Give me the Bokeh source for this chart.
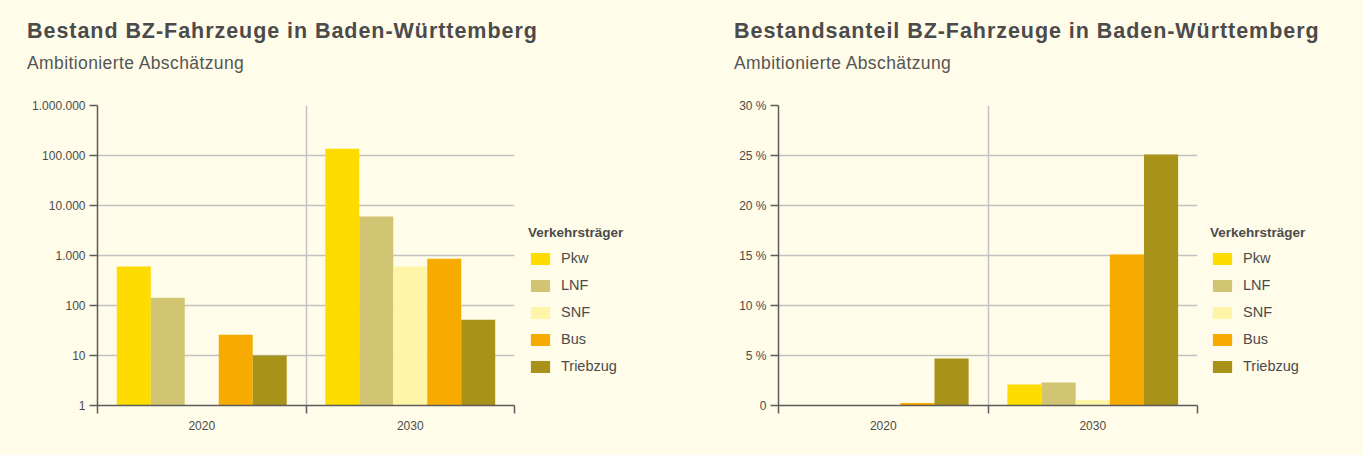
import numpy as np
from bokeh.plotting import figure
from bokeh.models import ColumnDataSource, FixedTicker, Div, Legend, LegendItem, Range1d
from bokeh.transform import dodge
from bokeh.layouts import row, column
from bokeh.embed import file_html
from bokeh.resources import INLINE

# ---------------- data ----------------
years = ["2020", "2030"]
kinds = ["Pkw", "LNF", "SNF", "Bus", "Triebzug"]
colors = ["#ffdc00", "#d1c574", "#fff5a8", "#f7ab00", "#a99219"]

# Bestand (Anzahl Fahrzeuge), log scale
bestand_pkw = [600, 136000]
bestand_lnf = [143, 6000]
bestand_snf = [float("nan"), 600]
bestand_bus = [26, 860]
bestand_triebzug = [10, 52]

# Bestandsanteil (%)
anteil_pkw = [0.0, 2.1]
anteil_lnf = [0.0, 2.3]
anteil_snf = [0.0, 0.55]
anteil_bus = [0.25, 15.1]
anteil_triebzug = [4.7, 25.1]

log_ticks = [1, 10, 100, 1000, 10000, 100000, 1000000]
log_tick_labels = ["1", "10", "100", "1.000", "10.000", "100.000", "1.000.000"]
pct_ticks = [0, 5, 10, 15, 20, 25, 30]
pct_tick_labels = ["0", "5 %", "10 %", "15 %", "20 %", "25 %", "30 %"]

titles = ["Bestand BZ-Fahrzeuge in Baden-Württemberg",
          "Bestandsanteil BZ-Fahrzeuge in Baden-Württemberg"]
subtitle = "Ambitionierte Abschätzung"
legend_title = "Verkehrsträger"

# ---------------- style ----------------
BG = "#fffce9"
FONT = "Liberation Sans"
TXT = "#4b4b4b"
AXIS = "#5c5c5c"
GRID = "#c2c2c2"
BAR_W = 0.163
HEAD_H = 75
FIG_H = 380


def header(title, width, left):
    html = (
        f'<div style="position:relative;width:{width}px;height:{HEAD_H}px;">'
        f'<div style="position:absolute;left:{left}px;top:21px;white-space:nowrap;letter-spacing:0.95px;'
        f"font:bold 21.5px/21px '{FONT}',sans-serif;color:{TXT};\">{title}</div>"
        f'<div style="position:absolute;left:{left}px;top:55px;white-space:nowrap;letter-spacing:0.4px;'
        f"font:normal 17.5px/17px '{FONT}',sans-serif;color:#555555;\">{subtitle}</div>"
        "</div>"
    )
    return Div(text=html, width=width, height=HEAD_H, margin=0,
               styles={"background-color": BG})


def make_chart(series, ticks, tick_labels, log, border_left, frame_w):
    kw = dict(y_axis_type="log", y_range=Range1d(1, 1e6)) if log else dict(y_range=Range1d(0, 30))
    p = figure(width=border_left + frame_w + 2, height=FIG_H,
               min_border_left=border_left, min_border_right=2,
               min_border_top=30, min_border_bottom=50,
               x_range=Range1d(0, len(years)), output_backend="svg",
               toolbar_location=None, tools="", **kw)
    p.margin = 0
    p.background_fill_color = BG
    p.border_fill_color = BG
    p.outline_line_color = None

    data = {"x": list(np.arange(len(years)) + 0.5)}
    for k, vals in zip(kinds, series):
        data[k] = vals
    src = ColumnDataSource(data)

    bottom = 1 if log else 0
    n = len(kinds)
    for i, (k, c) in enumerate(zip(kinds, colors)):
        off = (i - (n - 1) / 2) * BAR_W
        p.vbar(x=dodge("x", off, range=p.x_range), top=k, bottom=bottom,
               width=BAR_W, source=src, fill_color=c, line_color=None)

    # y axis
    p.yaxis.ticker = FixedTicker(ticks=ticks, minor_ticks=[])
    p.yaxis.major_label_overrides = {t: l for t, l in zip(ticks, tick_labels)}
    p.yaxis.major_tick_out = 8
    p.yaxis.major_tick_in = 0
    p.yaxis.major_label_standoff = 4
    # x axis: labels at group centres, tick marks at group boundaries
    centers = list(np.arange(len(years)) + 0.5)
    p.xaxis.ticker = FixedTicker(ticks=centers, minor_ticks=list(range(len(years) + 1)))
    p.xaxis.major_label_overrides = {c: y for c, y in zip(centers, years)}
    p.xaxis.major_tick_out = 0
    p.xaxis.major_tick_in = 0
    p.xaxis.minor_tick_out = 8
    p.xaxis.minor_tick_in = 0
    p.xaxis.major_label_standoff = 7
    for ax in (p.xaxis, p.yaxis):
        ax.axis_line_color = AXIS
        ax.axis_line_width = 1.5
        ax.major_tick_line_color = AXIS
        ax.major_tick_line_width = 1.5
        ax.minor_tick_line_color = AXIS
        ax.minor_tick_line_width = 1.5
        ax.major_label_text_font = FONT
        ax.major_label_text_font_size = "12px"
        ax.major_label_text_color = TXT

    p.ygrid.grid_line_color = GRID
    p.ygrid.grid_line_width = 1.5
    p.xgrid.ticker = FixedTicker(ticks=list(range(1, len(years) + 1)))
    p.xgrid.grid_line_color = GRID
    p.xgrid.grid_line_width = 1.5
    return p


def make_legend(width, dx):
    q = figure(width=width, height=FIG_H, min_border=0,
               x_range=Range1d(0, 1), y_range=Range1d(0, 1),
               x_axis_location=None, y_axis_location=None,
               output_backend="svg", toolbar_location=None, tools="")
    q.margin = 0
    q.background_fill_color = BG
    q.border_fill_color = BG
    q.outline_line_color = None
    q.grid.visible = False
    items = []
    for k, c in zip(kinds, colors):
        # swatch-only renderer, placed outside the visible range
        r = q.vbar(x=[5], top=[5], bottom=[4], width=0.1, fill_color=c, line_color=None)
        items.append(LegendItem(label=k, renderers=[r]))
    legend = Legend(items=items, title=legend_title, location=(dx, 31),
                    orientation="vertical", glyph_width=24, glyph_height=15,
                    label_standoff=9, spacing=11, padding=0, margin=0,
                    label_height=15, border_line_color=None,
                    background_fill_alpha=0, label_text_font=FONT,
                    label_text_font_size="14.5px", label_text_color=TXT,
                    title_text_font=FONT, title_text_font_size="13.5px",
                    title_text_font_style="bold", title_text_color=TXT,
                    title_standoff=10)
    q.add_layout(legend)
    return q


p1 = make_chart([bestand_pkw, bestand_lnf, bestand_snf, bestand_bus, bestand_triebzug],
                log_ticks, log_tick_labels, True, 97, 417)
l1 = make_legend(681 - p1.width, 12)
p2 = make_chart([anteil_pkw, anteil_lnf, anteil_snf, anteil_bus, anteil_triebzug],
                pct_ticks, pct_tick_labels, False, 97, 419)
l2 = make_legend(682 - p2.width, 11)

c1 = column(header(titles[0], 681, 27), row(p1, l1, spacing=0), spacing=0)
c2 = column(header(titles[1], 682, 53), row(p2, l2, spacing=0), spacing=0)
layout = row(c1, c2, spacing=0)
layout.styles = {"background-color": BG}
open("out.html", "w").write(file_html(layout, INLINE))
